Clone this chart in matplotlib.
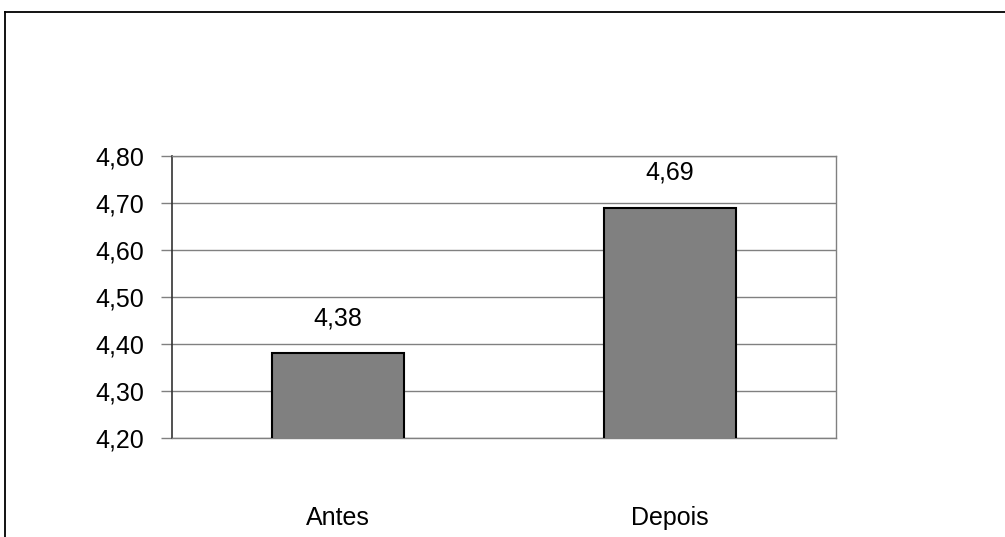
import matplotlib
matplotlib.use("Agg")
import matplotlib.pyplot as plt
from matplotlib.lines import Line2D
from matplotlib.ticker import FuncFormatter

categories = ["Antes", "Depois"]
values = [4.38, 4.69]
y_ticks = [4.20, 4.30, 4.40, 4.50, 4.60, 4.70, 4.80]

plt.rcParams["font.family"] = ["Liberation Sans", "DejaVu Sans"]
FS = 18

W, H = 1005, 537
fig = plt.figure(figsize=(W / 100, H / 100), dpi=100)
ax = fig.add_axes([172 / W, 1 - 438 / H, (836 - 172) / W, (438 - 156) / H])

x = list(range(len(categories)))
ax.bar(x, values, width=0.4, bottom=0, color="#808080", edgecolor="black",
       linewidth=1.5, zorder=3)
ax.set_xlim(-0.5, len(categories) - 0.5)
ax.set_ylim(y_ticks[0], y_ticks[-1])

fmt = lambda v: f"{v:.2f}".replace(".", ",")
for xi, v in zip(x, values):
    ax.annotate(fmt(v), (xi, v), xytext=(0, 20), textcoords="offset points",
                ha="center", va="baseline", fontsize=FS, color="black")

ax.set_yticks(y_ticks)
ax.yaxis.set_major_formatter(FuncFormatter(lambda v, p: fmt(v)))
ax.tick_params(axis="y", direction="out", length=8, width=1, color="#808080",
               labelsize=FS, pad=12)
ax.set_xticks(x)
ax.set_xticklabels(categories)
ax.tick_params(axis="x", length=0, labelsize=FS, pad=49)

ax.grid(axis="y", color="#808080", linewidth=1, zorder=0)
for side in ["top", "right", "bottom"]:
    ax.spines[side].set_color("#808080")
    ax.spines[side].set_linewidth(1)
ax.spines["left"].set_color("#333333")
ax.spines["left"].set_linewidth(1.2)

# outer chart frame
fig.add_artist(Line2D([5 / W, 1.0], [1 - 12 / H, 1 - 12 / H], transform=fig.transFigure,
                      color="black", linewidth=1.3))
fig.add_artist(Line2D([5 / W, 5 / W], [0.0, 1 - 12 / H], transform=fig.transFigure,
                      color="black", linewidth=1.3))

fig.savefig("out.png", dpi=100)
